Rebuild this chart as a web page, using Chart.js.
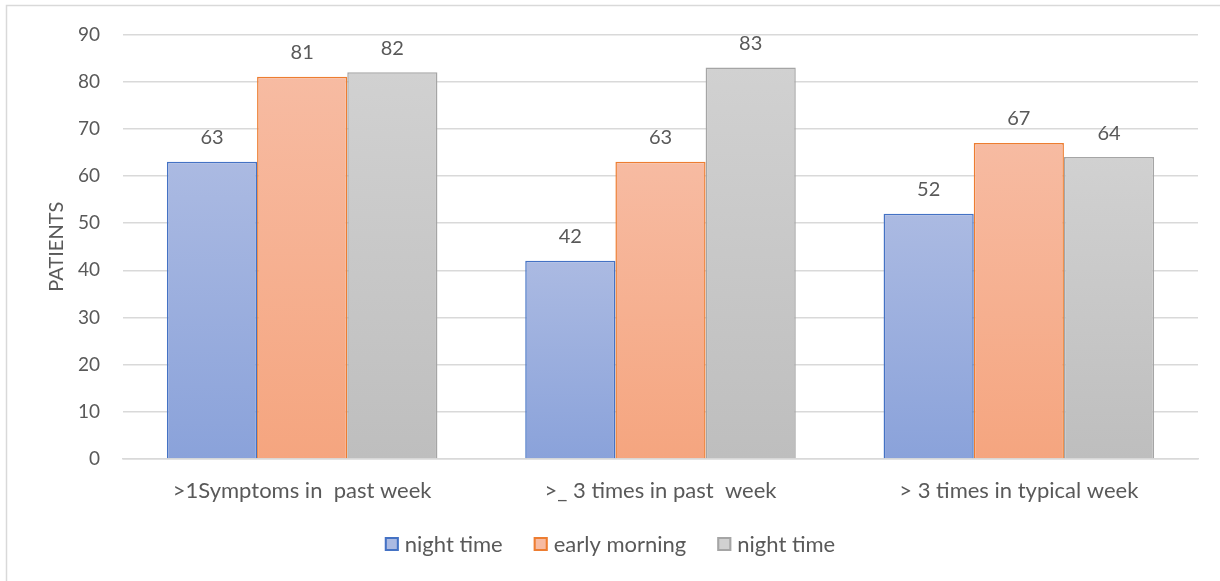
<!DOCTYPE html>
<html>
<head>
<meta charset="utf-8">
<script src="https://cdn.jsdelivr.net/npm/chart.js@4/dist/chart.umd.min.js"></script>
<style>
  html, body { margin: 0; padding: 0; background: #ffffff; }
  #wrap { position: relative; width: 1220px; height: 581px; }
</style>
</head>
<body>
<div id="wrap"><canvas id="c" width="1220" height="581"></canvas></div>
<script>
// Categories and series
const categories = ['>1Symptoms in  past week', '>_ 3 times in past  week', '> 3 times in typical week'];
const nightTimeA = [63, 42, 52];
const earlyMorning = [81, 63, 67];
const nightTimeB = [82, 83, 64];
const seriesNames = ['night time', 'early morning', 'night time'];
const yTicks = { min: 0, max: 90, step: 10 };

const FONT = 'Lato, "Open Sans", sans-serif';
const TEXT = '#595959';

// Vertical gradient that runs from the top of each bar down to the baseline
function barGradient(top, bottom) {
  return function (ctx) {
    const chart = ctx.chart;
    const y = chart.scales && chart.scales.y;
    if (!chart.chartArea || !y || ctx.parsed === undefined) return bottom;
    const yTop = y.getPixelForValue(ctx.parsed.y);
    const yBase = y.getPixelForValue(0);
    const g = chart.ctx.createLinearGradient(0, yTop, 0, yBase);
    g.addColorStop(0, top);
    g.addColorStop(1, bottom);
    return g;
  };
}

const palette = [
  { top: '#abbae2', bottom: '#8aa2da', border: '#4472c4' },
  { top: '#f7bba2', bottom: '#f5a57f', border: '#ed7d31' },
  { top: '#d1d1d1', bottom: '#bebebe', border: '#a5a5a5' }
];
const seriesValues = [nightTimeA, earlyMorning, nightTimeB];

const datasets = seriesValues.map((vals, i) => ({
  label: seriesNames[i],
  data: vals,
  backgroundColor: barGradient(palette[i].top, palette[i].bottom),
  borderColor: palette[i].border,
  borderWidth: 1.5,
  borderSkipped: 'bottom',
  categoryPercentage: 0.755,
  barPercentage: 1.0
}));

// Value labels above each bar
const valueLabels = {
  id: 'valueLabels',
  afterDatasetsDraw(chart) {
    const ctx = chart.ctx;
    ctx.save();
    ctx.font = '20px ' + FONT;
    ctx.fillStyle = TEXT;
    ctx.textAlign = 'center';
    ctx.textBaseline = 'bottom';
    chart.data.datasets.forEach((ds, di) => {
      const meta = chart.getDatasetMeta(di);
      meta.data.forEach((bar, j) => {
        ctx.fillText(String(ds.data[j]), bar.x, bar.y - 14);
      });
    });
    ctx.restore();
  }
};

// Legend row under the axis: square swatch followed by the series name
const legendRow = {
  id: 'legendRow',
  afterDraw(chart) {
    const ctx = chart.ctx;
    const box = 14, gapText = 6, gapItem = 31, cy = 544;
    ctx.save();
    ctx.font = '22px ' + FONT;
    const items = chart.data.datasets.map((ds, i) => ({
      text: ds.label, w: ctx.measureText(ds.label).width, c: palette[i]
    }));
    const total = items.reduce((s, it) => s + box + gapText + it.w, 0) + gapItem * (items.length - 1);
    let x = (chart.width - total) / 2;
    ctx.textBaseline = 'middle';
    ctx.textAlign = 'left';
    items.forEach(it => {
      ctx.fillStyle = it.c.top;
      ctx.fillRect(x, cy - box / 2, box, box);
      ctx.strokeStyle = it.c.border;
      ctx.lineWidth = 2;
      ctx.strokeRect(x + 1, cy - box / 2 + 1, box - 2, box - 2);
      ctx.fillStyle = TEXT;
      ctx.fillText(it.text, x + box + gapText, cy + 1);
      x += box + gapText + it.w + gapItem;
    });
    ctx.restore();
  }
};

// Light frame around the chart
const frame = {
  id: 'frame',
  beforeDraw(chart) {
    const ctx = chart.ctx;
    ctx.save();
    ctx.strokeStyle = '#d9d9d9';
    ctx.lineWidth = 1.5;
    ctx.strokeRect(6.5, 5.5, 1300, 700);
    ctx.restore();
  }
};

new Chart(document.getElementById('c'), {
  type: 'bar',
  data: { labels: categories, datasets },
  plugins: [frame, valueLabels, legendRow],
  options: {
    responsive: false,
    animation: false,
    layout: { padding: { left: 45, right: 22, top: 27, bottom: 0 } },
    plugins: {
      tooltip: { enabled: false },
      legend: { display: false }
    },
    scales: {
      x: {
        afterFit(scale) { scale.height = 581 - 459; },
        grid: { display: false, drawTicks: false },
        border: { display: true, color: '#d9d9d9', width: 1.5 },
        ticks: { font: { family: FONT, size: 22 }, color: TEXT, padding: 19, maxRotation: 0 }
      },
      y: {
        min: yTicks.min,
        max: yTicks.max,
        afterFit(scale) { scale.width = 78; },
        grid: { color: '#d9d9d9', lineWidth: 1.5, drawTicks: false },
        border: { display: false },
        ticks: { stepSize: yTicks.step, font: { family: FONT, size: 19 }, color: TEXT, padding: 23 },
        title: {
          display: true,
          text: 'PATIENTS',
          font: { family: FONT, size: 20 },
          color: TEXT,
          padding: { top: 0, bottom: 0 }
        }
      }
    }
  }
});
</script>
</body>
</html>
